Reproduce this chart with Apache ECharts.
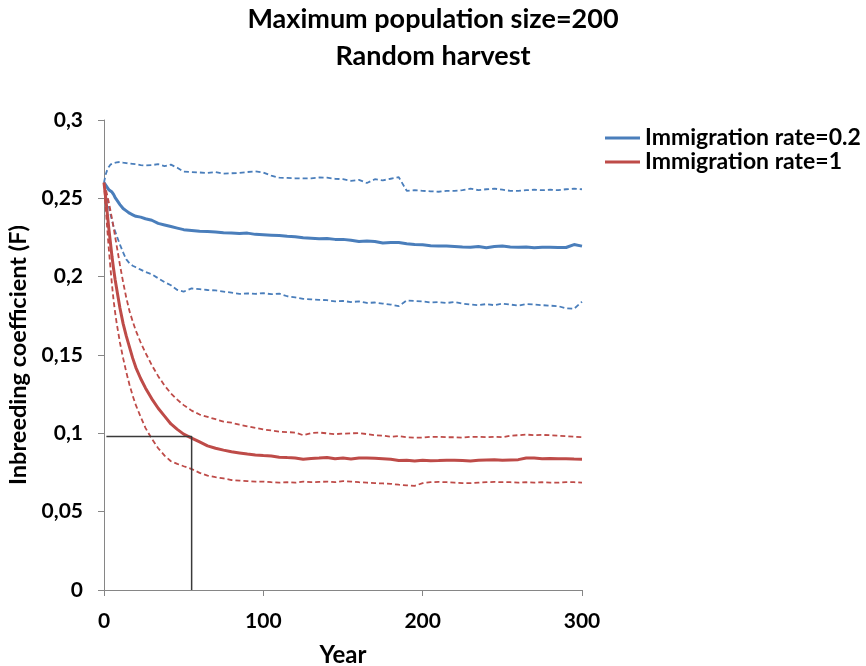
<!DOCTYPE html>
<html><head><meta charset="utf-8">
<script src="https://cdn.jsdelivr.net/npm/echarts@6/dist/echarts.min.js"></script>
<style>html,body{margin:0;padding:0;background:#fff;overflow:hidden}#c{width:866px;height:666px}</style>
</head><body><div id="c"></div>
<script>
var years = [0,1,2,3,4,5,6,7,8,10,12,14,16,18,20,23,26,30,34,38,42,46,50,55,60,65,70,75,80,85,90,95,100,105,110,115,120,125,130,135,140,145,150,155,160,165,170,175,180,185,190,195,200,205,210,215,220,225,230,235,240,245,250,255,260,265,270,275,280,285,290,295,300];

var blueMean = [0.260,0.259,0.257,0.2555,0.2545,0.254,0.2525,0.2505,0.249,0.246,0.2435,0.242,0.2405,0.2395,0.2385,0.238,0.237,0.236,0.234,0.233,0.232,0.231,0.230,
0.2295,0.229,0.2288,0.2285,0.228,0.2278,0.2275,0.2278,0.227,0.2268,0.2265,0.2262,0.2258,0.2255,0.2248,0.2245,0.2242,0.2243,0.2238,0.2238,0.2232,0.2225,0.2228,0.2225,0.2215,0.2218,0.2218,0.221,0.2205,0.2203,0.2198,0.2195,0.2195,0.2193,0.219,0.2188,0.2192,0.2185,0.2192,0.2195,0.219,0.2188,0.219,0.2185,0.2188,0.2188,0.2186,0.2186,0.2205,0.2195];

var blueUpper = [0.260,0.265,0.268,0.270,0.2715,0.272,0.2725,0.273,0.273,0.2732,0.2728,0.2725,0.2722,0.272,0.2718,0.2712,0.271,0.2712,0.2718,0.2705,0.2715,0.2695,0.267,
0.2668,0.2665,0.2662,0.2668,0.2658,0.266,0.2662,0.2668,0.2672,0.2665,0.2645,0.2632,0.263,0.2628,0.2627,0.2628,0.2633,0.2632,0.2625,0.2622,0.2612,0.2618,0.2598,0.2622,0.2615,0.2625,0.2635,0.2548,0.2552,0.2548,0.2545,0.2542,0.2548,0.2547,0.2552,0.2562,0.2552,0.2558,0.2562,0.2555,0.2548,0.2547,0.2552,0.2555,0.2552,0.2555,0.2552,0.2558,0.2562,0.2558];

var blueLower = [0.260,0.255,0.250,0.245,0.240,0.236,0.232,0.229,0.226,0.2205,0.2155,0.211,0.2085,0.207,0.206,0.2045,0.203,0.2015,0.199,0.1965,0.1945,0.1915,0.1905,
0.1925,0.192,0.1915,0.1912,0.1905,0.1898,0.189,0.1893,0.189,0.1895,0.1888,0.1892,0.1875,0.1868,0.1858,0.1855,0.1852,0.185,0.1842,0.1845,0.1838,0.1842,0.1832,0.1835,0.1828,0.1822,0.1812,0.1848,0.1845,0.1842,0.1835,0.1838,0.1832,0.1838,0.1828,0.1822,0.1818,0.1825,0.1818,0.1828,0.1822,0.1815,0.1825,0.1822,0.1818,0.1815,0.1812,0.1798,0.1795,0.184];

var redMean = [0.260,0.251,0.241,0.231,0.222,0.213,0.205,0.198,0.192,0.180,0.170,0.162,0.155,0.148,0.142,0.135,0.129,0.122,0.116,0.111,0.106,0.1025,0.0995,
0.097,0.0945,0.092,0.0905,0.0893,0.0882,0.0875,0.0868,0.0862,0.0858,0.0855,0.0848,0.0845,0.0843,0.0835,0.084,0.0842,0.0846,0.0838,0.0842,0.0836,0.0842,0.0843,0.0841,0.0838,0.0834,0.0826,0.0828,0.0824,0.0828,0.0825,0.0826,0.0828,0.0828,0.0826,0.0824,0.0828,0.083,0.0832,0.0828,0.083,0.0832,0.0843,0.0842,0.0838,0.084,0.0838,0.0838,0.0836,0.0835];

var redUpper = [0.260,0.2565,0.252,0.2475,0.2425,0.237,0.2315,0.2255,0.2195,0.2075,0.1965,0.1865,0.178,0.1715,0.1655,0.158,0.1515,0.1435,0.1365,0.1305,0.1255,0.1215,0.118,
0.1145,0.112,0.1105,0.109,0.1075,0.1068,0.1055,0.1045,0.1035,0.1025,0.1018,0.101,0.1008,0.1005,0.0988,0.1002,0.1005,0.1,0.0995,0.0998,0.1,0.1002,0.0995,0.0988,0.0985,0.0978,0.0982,0.0975,0.0972,0.0972,0.0978,0.0978,0.0975,0.0975,0.0972,0.0978,0.0978,0.0975,0.0978,0.0975,0.0985,0.0988,0.0992,0.0988,0.099,0.0988,0.0985,0.0982,0.0978,0.0975];

var redLower = [0.260,0.245,0.231,0.218,0.206,0.195,0.185,0.177,0.170,0.158,0.148,0.139,0.131,0.124,0.118,0.1105,0.1035,0.0965,0.0905,0.0858,0.0822,0.0805,0.079,
0.0772,0.0748,0.073,0.072,0.0712,0.0702,0.0698,0.0695,0.0692,0.0692,0.0688,0.0685,0.0688,0.0685,0.0692,0.0688,0.069,0.0692,0.0688,0.0695,0.0692,0.0688,0.0685,0.0682,0.068,0.0678,0.0672,0.0668,0.0665,0.0682,0.0688,0.069,0.0688,0.0685,0.0682,0.0682,0.0685,0.0688,0.069,0.0688,0.0688,0.0685,0.0688,0.0685,0.0688,0.0685,0.0685,0.0688,0.0688,0.0685];

var refX = [1.5, 55, 55];
var refY = [0.098, 0.098, 0];

var seriesNames = ['Immigration rate=0.2', 'Immigration rate=1'];
var titleLines = ['Maximum population size=200', 'Random harvest'];
var xName = 'Year';
var yName = 'Inbreeding coefficient (F)';

var BLUE = '#4A7EBB', RED = '#BE4B48';
var FONT = 'Lato';

function pairs(xs, ys){ return xs.map(function(x,i){ return [x, ys[i]]; }); }
function line(name, ys, color, dashed){
  return {name: name, type: 'line', data: pairs(years, ys), symbol: 'none', silent: true,
    lineStyle: {color: color, width: dashed ? 1.8 : 3, type: dashed ? [5,3] : 'solid'},
    itemStyle: {color: color}, z: dashed ? 2 : 3};
}

var chart = echarts.init(document.getElementById('c'), null, {renderer: 'canvas'});
chart.setOption({
  animation: false,
  backgroundColor: '#fff',
  title: {text: titleLines.join('\n'), left: 'center', top: 1, padding: 0,
    textStyle: {fontFamily: FONT, fontWeight: 'bold', fontSize: 27, color: '#000', lineHeight: 37}},
  legend: {orient: 'vertical', left: 600, top: 121, itemWidth: 35, itemHeight: 3, itemGap: 0, icon: 'rect',
    data: seriesNames,
    textStyle: {fontFamily: FONT, fontWeight: 'bold', fontSize: 23, color: '#000', lineHeight: 24}},
  grid: {left: 104, right: 284, top: 120, bottom: 76, containLabel: false, outerBoundsMode: 'none'},
  xAxis: {type: 'value', min: 0, max: 300, interval: 100,
    name: xName, nameLocation: 'middle', nameGap: 53,
    nameTextStyle: {fontFamily: FONT, fontWeight: 'bold', fontSize: 24, color: '#000'},
    axisLine: {lineStyle: {color: '#868686', width: 1}},
    axisTick: {show: true, length: 6, lineStyle: {color: '#868686'}},
    axisLabel: {margin: 21, fontFamily: FONT, fontWeight: 'bold', fontSize: 21, color: '#000'},
    splitLine: {show: false}},
  yAxis: {type: 'value', min: 0, max: 0.3, interval: 0.05,
    name: yName, nameLocation: 'middle', nameGap: 70, nameRotate: 90,
    nameTextStyle: {fontFamily: FONT, fontWeight: 'bold', fontSize: 23.5, color: '#000'},
    axisLine: {show: true, lineStyle: {color: '#868686', width: 1}},
    axisTick: {show: true, length: 6, lineStyle: {color: '#868686'}},
    axisLabel: {margin: 21, fontFamily: FONT, fontWeight: 'bold', fontSize: 21, color: '#000',
      formatter: function(v){ return String(+v.toFixed(2)).replace('.', ','); }},
    splitLine: {show: false}},
  series: [
    line(seriesNames[0] + ' upper', blueUpper, BLUE, true),
    line(seriesNames[0] + ' lower', blueLower, BLUE, true),
    line(seriesNames[1] + ' upper', redUpper, RED, true),
    line(seriesNames[1] + ' lower', redLower, RED, true),
    line(seriesNames[0], blueMean, BLUE, false),
    line(seriesNames[1], redMean, RED, false),
    {name: 'ref', type: 'line', data: pairs(refX, refY), symbol: 'none', silent: true,
      lineStyle: {color: '#3a3a3a', width: 1.5}, z: 4}
  ]
});
</script></body></html>
